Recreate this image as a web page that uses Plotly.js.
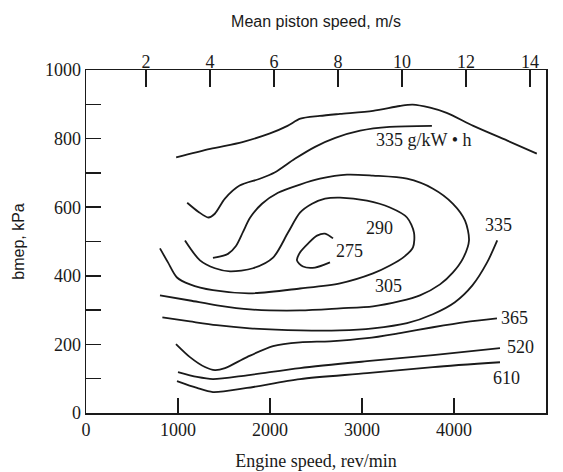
<!DOCTYPE html>
<html>
<head>
<meta charset="utf-8">
<script src="https://cdn.plot.ly/plotly-3.0.1.min.js"></script>
<style>
  html, body { margin: 0; padding: 0; background: #fff; }
  #map { width: 563px; height: 472px; }
</style>
</head>
<body>
<div id="map"></div>
<script>
// Engine performance map: bmep vs engine speed with brake specific fuel consumption contours (g/kW·h)

// Wide-open-throttle (maximum bmep) boundary
const wotRpm  = [980, 1350, 1700, 2000, 2190, 2330, 2540, 2760, 3120, 3410, 3550, 3740, 3920, 4210, 4580, 4900];
const wotBmep = [745, 770, 790, 815, 837, 858, 866, 872, 881, 895, 899, 890, 875, 837, 794, 756];

// bsfc 275 g/kW·h island
const c275Rpm  = [2685, 2598, 2511, 2413, 2326, 2293, 2359, 2489, 2652];
const c275Bmep = [509, 523, 517, 494, 468, 445, 427, 424, 439];

// bsfc 290
const c290Rpm  = [1076, 1239, 1402, 1565, 1815, 2033, 2196, 2326, 2457, 2598, 2761, 3054, 3304, 3489, 3565, 3554, 3446, 3304, 3120, 2761, 2326, 1783, 1380, 1130, 989, 891, 804];
const c290Bmep = [503, 445, 422, 413, 422, 453, 526, 584, 610, 625, 628, 619, 599, 570, 526, 483, 453, 430, 407, 378, 363, 349, 358, 375, 395, 439, 480];

// bsfc 305
const c305Rpm  = [1380, 1543, 1630, 1707, 1783, 1913, 2087, 2326, 2543, 2837, 3120, 3489, 3772, 3989, 4120, 4163, 4098, 3989, 3848, 3630, 3413, 3120, 2761, 2326, 1783, 1424, 1130, 804];
const c305Bmep = [452, 464, 487, 528, 569, 610, 642, 666, 683, 695, 692, 683, 654, 610, 561, 503, 451, 410, 375, 343, 326, 311, 305, 299, 302, 314, 328, 343];

// bsfc 335, upper branch
const c335aRpm  = [1100, 1220, 1330, 1400, 1510, 1670, 1890, 2050, 2270, 2490, 2710, 2980, 3300, 3760];
const c335aBmep = [613, 587, 570, 581, 625, 663, 683, 701, 741, 776, 802, 823, 834, 837];

// bsfc 335, right and lower branch
const c335bRpm  = [4470, 4360, 4200, 4010, 3770, 3490, 3120, 2760, 2330, 1780, 1420, 1130, 830];
const c335bBmep = [503, 439, 372, 323, 288, 262, 247, 241, 241, 247, 256, 267, 279];

// bsfc 365
const c365Rpm  = [978, 1130, 1293, 1402, 1511, 1750, 2033, 2326, 2652, 3054, 3413, 3772, 4120, 4467];
const c365Bmep = [201, 163, 134, 125, 131, 163, 195, 206, 209, 218, 233, 250, 265, 276];

// bsfc 520
const c520Rpm  = [1000, 1207, 1380, 1750, 2326, 3054, 3772, 4500];
const c520Bmep = [119, 105, 99, 110, 131, 151, 169, 189];

// bsfc 610
const c610Rpm  = [989, 1207, 1380, 1750, 2326, 3054, 3772, 4500];
const c610Bmep = [93, 73, 61, 73, 99, 116, 134, 148];

// Contour labels
const labelText = ['335 g/kW \u2022 h', '290', '275', '305', '335', '365', '520', '610'];
const labelRpm  = [3670, 3190, 2860, 3290, 4480, 4660, 4720, 4570];
const labelBmep = [796, 539, 472, 370, 548, 277, 192, 102];

// Axis ticks
const rpmTicks = [0, 1000, 2000, 3000, 4000, 5000];
const bmepTicks = [0, 100, 200, 300, 400, 500, 600, 700, 800, 900, 1000];
const bmepTickText = ['0', '', '200', '', '400', '', '600', '', '800', '', '1000'];
const pistonTicks = [2, 4, 6, 8, 10, 12, 14];
const pistonRange = [0.125, 14.5];

const ink = '#1a1a1a';
const serif = 'Liberation Serif, Times New Roman, serif';
const sans = 'Liberation Sans, Arial, sans-serif';

function curve(x, y) {
  return {
    x: x, y: y, type: 'scatter', mode: 'lines',
    line: { color: ink, width: 1.8, shape: 'spline', smoothing: 0.8 },
    hoverinfo: 'skip', showlegend: false
  };
}

const traces = [
  curve(wotRpm, wotBmep),
  curve(c275Rpm, c275Bmep),
  curve(c290Rpm, c290Bmep),
  curve(c305Rpm, c305Bmep),
  curve(c335aRpm, c335aBmep),
  curve(c335bRpm, c335bBmep),
  curve(c365Rpm, c365Bmep),
  curve(c520Rpm, c520Bmep),
  curve(c610Rpm, c610Bmep),
  // carries the mean piston speed axis
  { x: pistonRange, y: [0, 0], xaxis: 'x2', type: 'scatter', mode: 'lines',
    line: { width: 0 }, hoverinfo: 'skip', showlegend: false }
];

const annotations = labelText.map((t, i) => ({
  x: labelRpm[i], y: labelBmep[i], xref: 'x', yref: 'y',
  text: t, showarrow: false,
  font: { family: serif, size: 18, color: ink }
}));

const layout = {
  width: 563, height: 472,
  margin: { l: 86, r: 17, t: 70, b: 59 },
  paper_bgcolor: '#fff', plot_bgcolor: '#fff',
  showlegend: false,
  xaxis: {
    range: [0, 5000], tickvals: rpmTicks, ticks: 'inside', ticklen: 15, tickwidth: 1.5,
    tickcolor: ink, showline: true, linewidth: 1.5, linecolor: ink,
    showgrid: false, zeroline: false, automargin: false,
    tickfont: { family: serif, size: 18, color: ink },
    title: { text: 'Engine speed, rev/min', font: { family: serif, size: 18, color: ink }, standoff: 15 }
  },
  xaxis2: {
    overlaying: 'x', side: 'top', range: pistonRange, tickvals: pistonTicks,
    ticks: 'inside', ticklen: 17, tickwidth: 1.5, tickcolor: ink,
    showline: true, linewidth: 1.5, linecolor: ink,
    showgrid: false, zeroline: false, automargin: false,
    ticklabelstandoff: -7,
    tickfont: { family: serif, size: 18, color: ink },
    title: { text: 'Mean piston speed, m/s', font: { family: sans, size: 16, color: ink }, standoff: 20 }
  },
  yaxis: {
    range: [0, 1000], tickvals: bmepTicks, ticktext: bmepTickText,
    ticks: 'inside', ticklen: 15, tickwidth: 1.5, tickcolor: ink,
    showline: true, mirror: true, linewidth: 1.5, linecolor: ink,
    showgrid: false, zeroline: false, automargin: false,
    tickfont: { family: serif, size: 18, color: ink },
    title: { text: 'bmep, kPa', font: { family: sans, size: 16, color: ink }, standoff: 16 }
  },
  annotations: annotations
};

Plotly.newPlot('map', traces, layout, { staticPlot: true, displayModeBar: false });
</script>
</body>
</html>
